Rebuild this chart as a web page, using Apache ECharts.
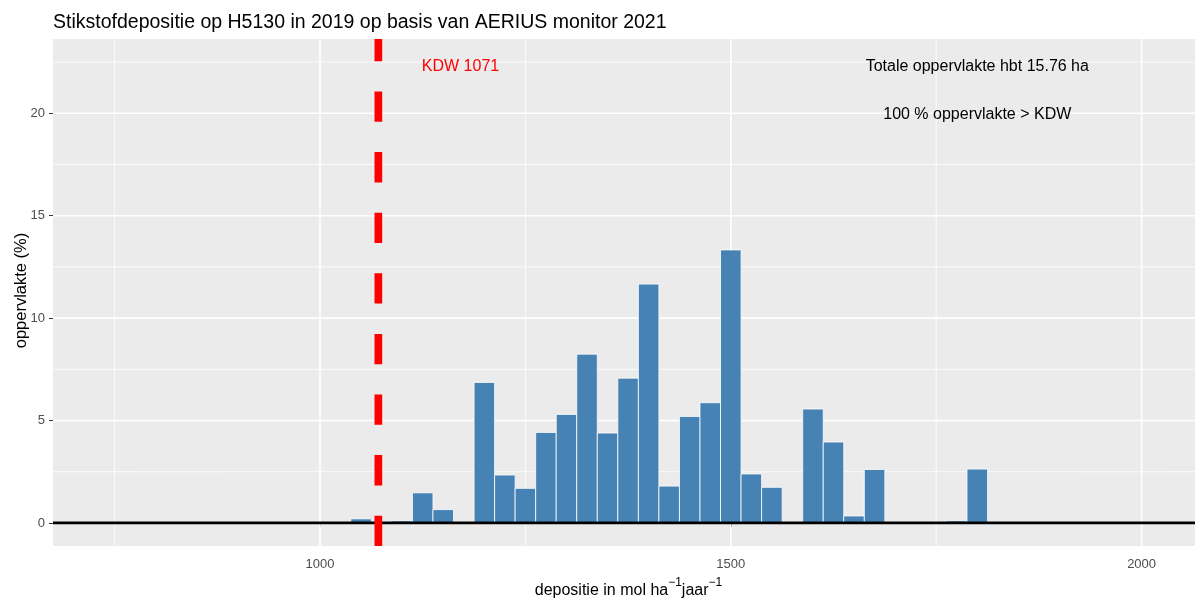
<!DOCTYPE html>
<html>
<head>
<meta charset="utf-8">
<script src="https://cdn.jsdelivr.net/npm/echarts@6/dist/echarts.min.js"></script>
<style>
  html, body { margin: 0; padding: 0; background: #ffffff; }
  #chart { width: 1197px; height: 599px; }
</style>
</head>
<body>
<div id="chart"></div>
<script>
// Histogram of N-deposition classes (bin mid-points, mol/ha/jaar) and share of area (%)
const binMid = [1050, 1100, 1125, 1150, 1200, 1225, 1250, 1275, 1300, 1325, 1350, 1375, 1400,
                1425, 1450, 1475, 1500, 1525, 1550, 1600, 1625, 1650, 1675, 1775, 1800];
const areaPct = [0.2, 0.1, 1.47, 0.65, 6.86, 2.34, 1.69, 4.42, 5.30, 8.24, 4.39, 7.07, 11.66,
                 1.80, 5.20, 5.87, 13.33, 2.39, 1.74, 5.56, 3.95, 0.34, 2.61, 0.1, 2.63];
const binWidth = 25;

// Critical deposition value (KDW) of H5130
const kdw = 1071;

// Axis ticks
const xTicks = [1000, 1500, 2000];
const xMinor = [750, 1250, 1750];
const yTicks = [0, 5, 10, 15, 20];
const yMinor = [2.5, 7.5, 12.5, 17.5, 22.5];

// Annotations
const noteX = [1171, 1800, 1800];
const noteY = [22.3, 22.3, 19.95];
const noteText = ['KDW ' + kdw, 'Totale oppervlakte hbt 15.76 ha', '100 % oppervlakte > KDW'];
const noteColor = ['#ff0000', '#000000', '#000000'];

const X_MIN = 675, X_MAX = 2065;
const Y_MIN = -1.125, Y_MAX = 23.625;

const FONT = '"Liberation Sans", Arial, sans-serif';

const chart = echarts.init(document.getElementById('chart'), null, { renderer: 'canvas' });

function gridLines(vertical) {
  return function (params, api) {
    const v = api.value(vertical ? 0 : 1);
    const w = api.value(2);
    const a = vertical ? api.coord([v, Y_MIN]) : api.coord([X_MIN, v]);
    const b = vertical ? api.coord([v, Y_MAX]) : api.coord([X_MAX, v]);
    return {
      type: 'line',
      shape: { x1: a[0], y1: a[1], x2: b[0], y2: b[1] },
      style: { stroke: '#ffffff', lineWidth: w }
    };
  };
}

const option = {
  animation: false,
  title: {
    text: 'Stikstofdepositie op H5130 in 2019 op basis van AERIUS monitor 2021',
    left: 53,
    top: 13,
    padding: 0,
    textStyle: { fontFamily: FONT, fontSize: 19.5, fontWeight: 'normal', color: '#000000', lineHeight: 20 }
  },
  grid: {
    left: 53, top: 39, width: 1142, height: 507,
    show: true, backgroundColor: '#EBEBEB', borderWidth: 0,
    containLabel: false, outerBoundsMode: 'none'
  },
  xAxis: {
    type: 'value',
    min: X_MIN, max: X_MAX,
    axisLine: { show: false },
    splitLine: { show: false },
    axisTick: { show: true, customValues: xTicks, length: 4, lineStyle: { color: '#333333', width: 1 } },
    axisLabel: {
      customValues: xTicks, color: '#4D4D4D', fontSize: 13, fontFamily: FONT, margin: 12,
      formatter: v => String(v)
    },
    name: '{a|depositie in mol ha}{s|−1}{a|jaar}{s|−1}',
    nameLocation: 'middle',
    nameGap: 31,
    nameMoveOverlap: false,
    nameTextStyle: {
      padding: [0, 0, 0, 9],
      rich: {
        a: { fontFamily: FONT, fontSize: 16, color: '#000000', lineHeight: 22, verticalAlign: 'bottom' },
        s: { fontFamily: FONT, fontSize: 12, color: '#000000', lineHeight: 10, verticalAlign: 'top' }
      }
    }
  },
  yAxis: {
    type: 'value',
    min: Y_MIN, max: Y_MAX,
    axisLine: { show: false },
    splitLine: { show: false },
    axisTick: { show: true, customValues: yTicks, length: 4, lineStyle: { color: '#333333', width: 1 } },
    axisLabel: {
      customValues: yTicks, color: '#4D4D4D', fontSize: 13, fontFamily: FONT, margin: 8,
      formatter: v => String(v)
    },
    name: 'oppervlakte (%)',
    nameLocation: 'middle',
    nameGap: 24,
    nameMoveOverlap: false,
    nameTextStyle: { fontFamily: FONT, fontSize: 16.5, color: '#000000', lineHeight: 16, padding: [0, 0, 0, 4] }
  },
  series: [
    {
      // vertical panel grid lines
      type: 'custom',
      silent: true,
      z: 1,
      data: xTicks.map(v => [v, 0, 1.6]).concat(xMinor.map(v => [v, 0, 0.8])),
      renderItem: gridLines(true)
    },
    {
      // horizontal panel grid lines
      type: 'custom',
      silent: true,
      z: 1,
      data: yTicks.map(v => [X_MIN, v, 1.6]).concat(yMinor.map(v => [X_MIN, v, 0.8])),
      renderItem: gridLines(false)
    },
    {
      // histogram bars
      type: 'custom',
      silent: true,
      z: 2,
      data: binMid.map((m, i) => [m, areaPct[i]]),
      renderItem: function (params, api) {
        const m = api.value(0), v = api.value(1);
        const p0 = api.coord([m - binWidth / 2, v]);
        const p1 = api.coord([m + binWidth / 2, 0]);
        return {
          type: 'rect',
          shape: { x: p0[0], y: p0[1], width: p1[0] - p0[0], height: p1[1] - p0[1] },
          style: { fill: '#4682B4', stroke: '#ffffff', lineWidth: 0.8 }
        };
      }
    },
    {
      // zero reference line
      type: 'line',
      silent: true,
      z: 3,
      symbol: 'none',
      data: [[X_MIN, 0], [X_MAX, 0]],
      lineStyle: { color: '#000000', width: 2.8 }
    },
    {
      // KDW marker
      type: 'line',
      silent: true,
      z: 4,
      symbol: 'none',
      data: [[kdw, Y_MIN], [kdw, Y_MAX]],
      lineStyle: { color: '#ff0000', width: 7.7, type: [30.3, 30.3], cap: 'butt' }
    },
    {
      // text annotations
      type: 'custom',
      silent: true,
      z: 5,
      data: noteX.map((x, i) => [x, noteY[i]]),
      renderItem: function (params, api) {
        const p = api.coord([api.value(0), api.value(1)]);
        const i = params.dataIndex;
        return {
          type: 'text',
          x: p[0], y: p[1],
          style: {
            text: noteText[i], fill: noteColor[i],
            fontFamily: FONT, fontSize: 16,
            align: 'center', verticalAlign: 'middle'
          }
        };
      }
    }
  ]
};

chart.setOption(option);
</script>
</body>
</html>
